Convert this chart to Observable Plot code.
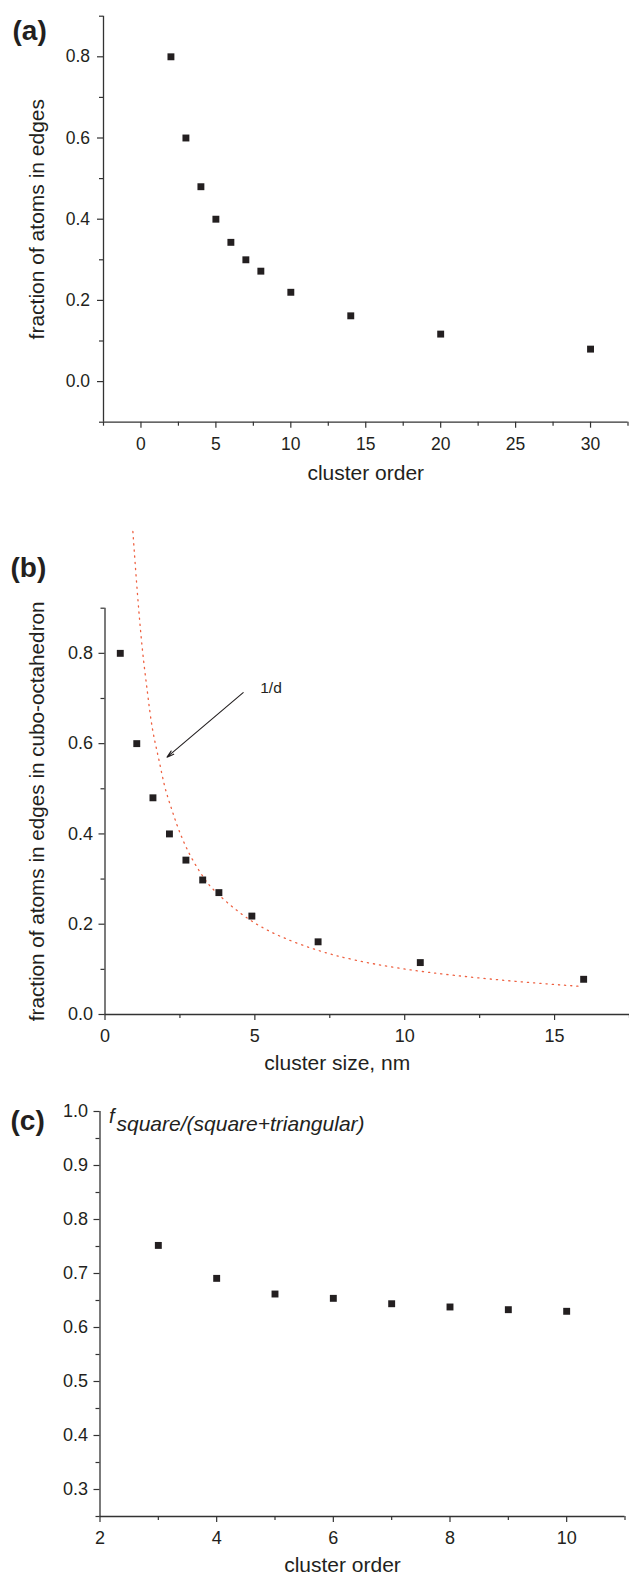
<!DOCTYPE html>
<html>
<head>
<meta charset="utf-8">
<script src="https://cdn.jsdelivr.net/npm/d3@7"></script>
<script src="https://cdn.jsdelivr.net/npm/@observablehq/plot@0.6"></script>
<style>
  body { margin: 0; background: #fff; }
  #chart { width: 629px; }
  #chart svg { display: block; }
</style>
</head>
<body>
<div id="chart"></div>
<script>
// ---------- Panel (a): fraction of atoms in edges vs cluster order ----------
const orderA = [2, 3, 4, 5, 6, 7, 8, 10, 14, 20, 30];
const fracA  = [0.80, 0.60, 0.48, 0.40, 0.343, 0.30, 0.272, 0.22, 0.162, 0.117, 0.08];
const xTicksA = [0, 5, 10, 15, 20, 25, 30];
const xMinorA = [-2.5, 2.5, 7.5, 12.5, 17.5, 22.5, 27.5, 32.5];
const yTicksA = [0, 0.2, 0.4, 0.6, 0.8];
const yMinorA = [-0.1, 0.1, 0.3, 0.5, 0.7, 0.9];

// ---------- Panel (b): fraction vs cluster size (nm), with 1/d guide ----------
const sizeB = [0.51, 1.06, 1.60, 2.15, 2.70, 3.26, 3.80, 4.90, 7.11, 10.52, 15.97];
const fracB = [0.80, 0.60, 0.48, 0.40, 0.342, 0.298, 0.270, 0.218, 0.161, 0.115, 0.078];
// points read along the dotted "1/d" curve
const fitD = [0.93, 1.07, 1.24, 1.41, 1.57, 1.79, 1.98, 2.24, 2.46, 2.85, 3.35, 3.53, 4.11, 4.91, 5.83, 7.09, 8.24, 9.85, 11.68, 13.86, 15.93];
const fitY = [1.07, 0.939, 0.806, 0.718, 0.629, 0.570, 0.503, 0.452, 0.407, 0.348, 0.297, 0.282, 0.245, 0.204, 0.172, 0.141, 0.121, 0.101, 0.086, 0.072, 0.062];
const xTicksB = [0, 5, 10, 15];
const xMinorB = [2.5, 7.5, 12.5, 17.5];
const yTicksB = [0, 0.2, 0.4, 0.6, 0.8];
const yMinorB = [0.1, 0.3, 0.5, 0.7, 0.9];
const arrowFrom = [4.61, 0.713];
const arrowTo   = [2.07, 0.570];
const curveLabel = "1/d";
const curveLabelAt = [5.18, 0.712];

// ---------- Panel (c): f square/(square+triangular) vs cluster order ----------
const orderC = [3, 4, 5, 6, 7, 8, 9, 10];
const fracC  = [0.752, 0.691, 0.662, 0.654, 0.644, 0.638, 0.633, 0.630];
const xTicksC = [2, 4, 6, 8, 10];
const xMinorC = [3, 5, 7, 9, 11];
const yTicksC = [0.3, 0.4, 0.5, 0.6, 0.7, 0.8, 0.9, 1.0];
const yMinorC = [0.25, 0.35, 0.45, 0.55, 0.65, 0.75, 0.85, 0.95];

const FONT = '"Liberation Sans", Arial, Helvetica, sans-serif';
const INK = "#231f20";
const AXIS = "#333333";
const f1 = d3.format(".1f");

function axes(c) {
  const common = {stroke: AXIS, fill: INK, strokeWidth: 1.2, label: null};
  return [
    Plot.ruleX([c.xDomain[0]], {stroke: AXIS, strokeWidth: 1.3}),
    Plot.ruleY([c.yDomain[0]], {stroke: AXIS, strokeWidth: 1.3}),
    Plot.axisX({...common, ticks: c.xMajor, tickSize: 6, tickPadding: 9, tickFormat: d => String(d), fontSize: c.tickFont}),
    Plot.axisX({...common, ticks: c.xMinor, tickSize: 4, tickFormat: () => ""}),
    Plot.axisY({...common, ticks: c.yMajor, tickSize: 6, tickPadding: c.yPad, tickFormat: f1, fontSize: c.tickFont}),
    Plot.axisY({...common, ticks: c.yMinor, tickSize: 4, tickFormat: () => ""})
  ];
}

function squares(xs, ys) {
  return Plot.dot(xs.map((x, i) => ({x, y: ys[i]})), {x: "x", y: "y", symbol: "square", r: 3.9, fill: INK, stroke: "none"});
}

function panel(c) {
  return Plot.plot({
    width: 629, height: c.height,
    marginTop: c.mt, marginBottom: c.mb, marginLeft: c.ml, marginRight: c.mr,
    x: {domain: c.xDomain, label: null},
    y: {domain: c.yDomain, label: null},
    style: {fontFamily: FONT, background: "white", overflow: "visible", color: INK},
    marks: [...axes(c), ...c.marks]
  });
}

const label = (txt, o) => Plot.text([txt], {text: d => d, fill: INK, ...o});

const A = panel({
  height: 490, mt: 15.7, mb: 68.3, ml: 103, mr: 1.5,
  xDomain: [-2.5, 32.5], yDomain: [-0.1, 0.9],
  xMajor: xTicksA, xMinor: xMinorA, yMajor: yTicksA, yMinor: yMinorA,
  tickFont: 17.5, yPad: 7.5,
  marks: [
    squares(orderA, fracA),
    label("(a)", {frameAnchor: "top-left", textAnchor: "start", lineAnchor: "bottom", dx: -91, dy: 23.3, fontSize: 28, fontWeight: "bold"}),
    label("cluster order", {frameAnchor: "bottom", textAnchor: "middle", lineAnchor: "bottom", dy: 57.5, fontSize: 21}),
    label("fraction of atoms in edges", {frameAnchor: "left", textAnchor: "middle", lineAnchor: "bottom", rotate: -90, dx: -59.5, fontSize: 21})
  ]
});

const B = panel({
  height: 595, mt: 117.7, mb: 71, ml: 104.5, mr: 0,
  xDomain: [0, 17.5], yDomain: [0, 0.9],
  xMajor: xTicksB, xMinor: xMinorB, yMajor: yTicksB, yMinor: yMinorB,
  tickFont: 18, yPad: 6,
  marks: [
    Plot.line(fitD.map((d, i) => ({d, y: fitY[i]})), {x: "d", y: "y", curve: "basis", stroke: "#ee6040", strokeWidth: 1.3, strokeDasharray: "1.2,5"}),
    squares(sizeB, fracB),
    Plot.arrow([{x1: arrowFrom[0], y1: arrowFrom[1], x2: arrowTo[0], y2: arrowTo[1]}], {x1: "x1", y1: "y1", x2: "x2", y2: "y2", stroke: INK, strokeWidth: 1.1, headLength: 10, headAngle: 32}),
    Plot.text([curveLabel], {x: () => curveLabelAt[0], y: () => curveLabelAt[1], text: d => d, textAnchor: "start", lineAnchor: "bottom", fontSize: 15.5, fill: INK}),
    label("(b)", {frameAnchor: "top-left", textAnchor: "start", lineAnchor: "bottom", dx: -94.5, dy: -31.7, fontSize: 28, fontWeight: "bold"}),
    label("cluster size, nm", {frameAnchor: "bottom", textAnchor: "middle", lineAnchor: "bottom", dx: -30, dy: 55, fontSize: 21}),
    label("fraction of atoms in edges in cubo-octahedron", {frameAnchor: "left", textAnchor: "middle", lineAnchor: "bottom", rotate: -90, dx: -61, fontSize: 20.7})
  ]
});

const C = panel({
  height: 488, mt: 26, mb: 57, ml: 99.5, mr: 4.5,
  xDomain: [2, 11], yDomain: [0.25, 1.0],
  xMajor: xTicksC, xMinor: xMinorC, yMajor: yTicksC, yMinor: yMinorC,
  tickFont: 18, yPad: 6,
  marks: [
    squares(orderC, fracC),
    label("(c)", {frameAnchor: "top-left", textAnchor: "start", lineAnchor: "bottom", dx: -89.5, dy: 18, fontSize: 28, fontWeight: "bold"}),
    label("f", {frameAnchor: "top-left", textAnchor: "start", lineAnchor: "bottom", dx: 9, dy: 11, fontSize: 20, fontStyle: "italic"}),
    label("square/(square+triangular)", {frameAnchor: "top-left", textAnchor: "start", lineAnchor: "bottom", dx: 16.5, dy: 19, fontSize: 21, fontStyle: "italic"}),
    label("cluster order", {frameAnchor: "bottom", textAnchor: "middle", lineAnchor: "bottom", dx: -20, dy: 55, fontSize: 21})
  ]
});

const root = document.getElementById("chart");
root.append(A, B, C);
</script>
</body>
</html>
